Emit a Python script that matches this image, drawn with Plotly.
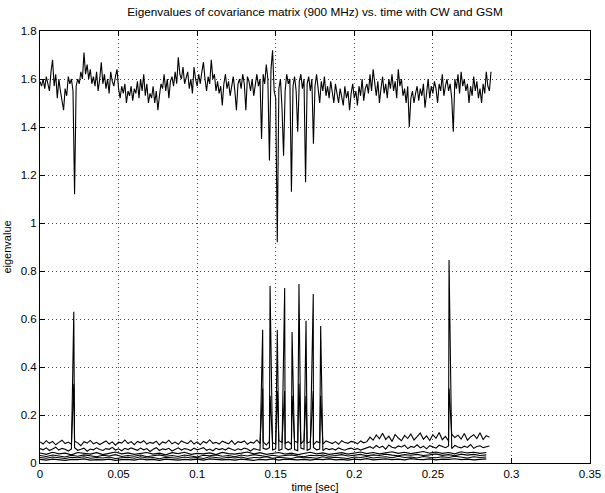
import numpy as np
import plotly.graph_objects as go

title_text = "Eigenvalues of covariance matrix (900 MHz) vs. time with CW and GSM"
x_label = "time [sec]"
y_label = "eigenvalue"
x_ticks = [0, 0.05, 0.1, 0.15, 0.2, 0.25, 0.3, 0.35]
x_tick_text = ["0", "0.05", "0.1", "0.15", "0.2", "0.25", "0.3", "0.35"]
y_ticks = [0, 0.2, 0.4, 0.6, 0.8, 1.0, 1.2, 1.4, 1.6, 1.8]
y_tick_text = ["0", "0.2", "0.4", "0.6", "0.8", "1", "1.2", "1.4", "1.6", "1.8"]

# sampling periods (s)
dt_fine = 0.001
dt_mid = 0.002
dt_coarse = 0.004

# largest eigenvalue, 1 ms samples
ev1 = [
    1.59, 1.57, 1.60, 1.56, 1.61, 1.58, 1.55, 1.63, 1.68, 1.57,
    1.62, 1.52, 1.60, 1.55, 1.50, 1.47, 1.56, 1.53, 1.61, 1.58,
    1.60, 1.55, 1.12, 1.57, 1.60, 1.58, 1.63, 1.60, 1.71, 1.62,
    1.66, 1.60, 1.64, 1.58, 1.61, 1.57, 1.63, 1.55, 1.60, 1.67,
    1.58, 1.62, 1.56, 1.60, 1.54, 1.63, 1.59, 1.57, 1.61, 1.64,
    1.56, 1.52, 1.57, 1.54, 1.58, 1.50, 1.55, 1.53, 1.57, 1.51,
    1.56, 1.54, 1.59, 1.52, 1.60, 1.55, 1.62, 1.53, 1.58, 1.50,
    1.54, 1.52, 1.57, 1.50, 1.55, 1.47, 1.53, 1.58, 1.56, 1.62,
    1.55, 1.60, 1.52, 1.59, 1.61, 1.57, 1.63, 1.58, 1.69, 1.62,
    1.60, 1.65, 1.58, 1.61, 1.63, 1.56, 1.60, 1.54, 1.65, 1.60,
    1.57, 1.62, 1.58, 1.63, 1.67, 1.60, 1.55, 1.61, 1.58, 1.68,
    1.60, 1.62, 1.55, 1.59, 1.54, 1.57, 1.49, 1.58, 1.62, 1.56,
    1.59, 1.53, 1.57, 1.61, 1.55, 1.47, 1.58, 1.60, 1.56, 1.62,
    1.58, 1.47, 1.61, 1.59, 1.55, 1.60, 1.53, 1.58, 1.62, 1.57,
    1.60, 1.35, 1.62, 1.58, 1.66, 1.60, 1.26, 1.64, 1.72, 1.55,
    1.52, 0.92, 1.56, 1.60, 1.48, 1.28, 1.55, 1.62, 1.58, 1.60,
    1.13, 1.57, 1.61, 1.55, 1.38, 1.59, 1.62, 1.56, 1.60, 1.17,
    1.58, 1.61, 1.55, 1.60, 1.33, 1.57, 1.62, 1.56, 1.50, 1.59,
    1.55, 1.61, 1.53, 1.57, 1.52, 1.59, 1.55, 1.50, 1.58, 1.54,
    1.50, 1.56, 1.53, 1.49, 1.57, 1.52, 1.55, 1.47, 1.54, 1.58,
    1.52, 1.55, 1.49, 1.57, 1.53, 1.60, 1.51, 1.56, 1.58, 1.54,
    1.62, 1.55, 1.64, 1.57, 1.53, 1.59, 1.50, 1.56, 1.61, 1.54,
    1.58, 1.52, 1.60, 1.56, 1.62, 1.55, 1.59, 1.52, 1.64, 1.57,
    1.60, 1.53, 1.56, 1.50, 1.57, 1.40, 1.52, 1.55, 1.50, 1.54,
    1.57, 1.51, 1.56, 1.53, 1.58, 1.48, 1.55, 1.60, 1.52, 1.57,
    1.54, 1.59, 1.56, 1.50, 1.58, 1.55, 1.62, 1.53, 1.57, 1.60,
    1.55, 1.58, 1.52, 1.38, 1.60, 1.56, 1.62, 1.54, 1.63, 1.57,
    1.60, 1.55, 1.58, 1.50, 1.57, 1.53, 1.61, 1.55, 1.59, 1.52,
    1.56, 1.50, 1.58, 1.54, 1.63, 1.57, 1.55, 1.63,
]

# second and third eigenvalues, 2 ms samples
ev2 = [
    .088, .079, .093, .082, .090, .076, .086, .095, .081, .087,
    .078, .091, .084, .072, .089, .083, .094, .080, .086, .077,
    .085, .092, .079, .088, .074, .087, .083, .096, .081, .089,
    .076, .090, .084, .093, .079, .086, .082, .091, .075, .088,
    .083, .095, .080, .087, .078, .092, .085, .081, .094, .079,
    .088, .076, .090, .083, .097, .082, .086, .079, .091, .084,
    .080, .093, .077, .089, .085, .092, .078, .087, .083, .096,
    .081, .088, .075, .090, .084, .079, .093, .086, .082, .089,
    .077, .091, .085, .080, .094, .083, .088, .076, .090, .084,
    .079, .092, .086, .081, .089, .078, .093, .085, .082, .090,
    .087, .080, .092, .084, .089,
    .108, .095, .117, .101, .124, .098, .112, .090, .119, .104,
    .093, .115, .102, .121, .096, .110, .125, .099, .113, .094,
    .118, .103, .127, .097, .111, .092, .120, .106, .116, .100,
    .123, .095, .109, .118, .102, .126, .098, .114, .107,
]
ev3 = [
    .060, .055, .063, .052, .058, .066, .054, .061, .057, .050,
    .059, .064, .053, .057, .062, .049, .058, .055, .063, .056,
    .052, .060, .057, .065, .054, .059, .051, .061, .056, .063,
    .058, .053, .062, .055, .060, .048, .057, .064, .052, .059,
    .056, .061, .050, .058, .063, .054, .060, .057, .052, .062,
    .055, .059, .064, .053, .058, .051, .061, .056, .060, .054,
    .063, .057, .052, .059, .055, .062, .058, .050, .060, .056,
    .053, .061, .057, .064, .054, .059, .052, .058, .063, .055,
    .060, .056, .051, .062, .057, .053, .059, .065, .055, .058,
    .052, .061, .056, .060, .054, .063, .057, .053, .059, .062,
    .056, .060, .054, .058, .063,
    .068, .061, .073, .064, .070, .058, .075, .066, .062, .071,
    .067, .074, .060, .069, .065, .076, .063, .070, .059, .072,
    .066, .062, .074, .068, .064, .071, .060, .073, .067, .063,
    .070, .065, .077, .061, .069, .072, .064, .068, .071,
]

# smallest eigenvalues, 4 ms samples
ev4 = [
    .042, .036, .045, .038, .041, .034, .044, .039, .037, .043,
    .035, .040, .046, .038, .042, .036, .039, .044, .037, .041,
    .034, .043, .039, .045, .036, .040, .038, .042, .035, .044,
    .039, .037, .041, .046, .038, .043, .036, .040, .044, .037,
    .041, .035, .039, .045, .038, .042, .036, .040, .043, .037,
    .041, .046, .039, .044, .038, .042, .047, .040, .045, .039,
    .043, .048, .041, .046, .040, .044, .038, .047, .042, .045,
    .040, .044,
]
ev5 = [
    .031, .027, .033, .029, .025, .032, .028, .034, .030, .026,
    .032, .029, .035, .027, .031, .028, .033, .026, .030, .034,
    .028, .031, .027, .033, .029, .025, .032, .030, .034, .028,
    .031, .026, .033, .029, .035, .030, .027, .032, .028, .031,
    .034, .029, .026, .032, .030, .033, .028, .031, .035, .029,
    .032, .036, .030, .034, .031, .037, .033, .030, .035, .032,
    .036, .031, .034, .038, .032, .035, .030, .037, .033, .036,
    .031, .034,
]
ev6 = [
    .023, .020, .025, .021, .019, .024, .022, .026, .020, .023,
    .021, .025, .019, .022, .024, .020, .026, .021, .023, .018,
    .024, .022, .020, .025, .021, .023, .019, .026, .022, .020,
    .024, .021, .025, .019, .023, .022, .026, .020, .024, .021,
    .019, .025, .022, .023, .020, .026, .021, .024, .022, .019,
    .025, .023, .027, .021, .024, .026, .022, .028, .023, .025,
    .021, .027, .024, .022, .026, .023, .028, .024, .021, .026,
    .023, .025,
]
ev7 = [
    .015, .012, .016, .013, .011, .015, .014, .017, .012, .014,
    .013, .016, .011, .014, .015, .012, .017, .013, .015, .011,
    .016, .014, .012, .015, .013, .016, .012, .017, .014, .013,
    .015, .012, .016, .014, .011, .015, .013, .017, .012, .016,
    .014, .013, .015, .012, .016, .014, .017, .013, .015, .012,
    .016, .014, .018, .013, .015, .017, .014, .016, .013, .018,
    .015, .014, .017, .013, .016, .015, .018, .014, .016, .013,
    .015, .017,
]

# burst events (CW onset, GSM frames, late burst)
spike_t = [0.0215, 0.1417, 0.1464, 0.1510, 0.1557, 0.1604, 0.1648, 0.1693, 0.1739, 0.1786, 0.2603]
spike_peak = [0.63, 0.555, 0.738, 0.555, 0.729, 0.546, 0.746, 0.593, 0.704, 0.571, 0.846]
spike_peak2 = [0.33, 0.31, 0.28, 0.30, 0.30, 0.28, 0.33, 0.28, 0.30, 0.28, 0.31]


def times(n, dt):
    return list(np.arange(n) * dt)


def with_spikes(tt, vv, st, sp):
    pts = sorted(list(zip(tt, vv)) + list(zip(st, sp)))
    return [p[0] for p in pts], [p[1] for p in pts]


fig = go.Figure()
line_black = dict(color="black", width=1.1)

series = [
    (times(len(ev7), dt_coarse), ev7),
    (times(len(ev6), dt_coarse), ev6),
    (times(len(ev5), dt_coarse), ev5),
    (times(len(ev4), dt_coarse), ev4),
    with_spikes(times(len(ev2), dt_mid), ev2, spike_t, spike_peak2),
    with_spikes(times(len(ev3), dt_mid), ev3, spike_t, spike_peak),
    (times(len(ev1), dt_fine), ev1),
]
for tx, vy in series:
    fig.add_trace(go.Scatter(x=tx, y=vy, mode="lines", line=line_black,
                             showlegend=False, hoverinfo="skip"))

font_family = "Liberation Sans, Arial, Helvetica, sans-serif"
axis_common = dict(
    showline=True, linecolor="black", linewidth=1, mirror="ticks",
    ticks="inside", ticklen=5, tickcolor="black", tickwidth=1,
    showgrid=True, gridcolor="#444", gridwidth=1, griddash="1px,3px",
    zeroline=False, automargin=False,
    tickfont=dict(size=11.5, color="black", family=font_family),
)
fig.update_xaxes(range=[0, 0.35], tickvals=x_ticks, ticktext=x_tick_text,
                 title=dict(text=x_label, font=dict(size=11, color="black", family=font_family), standoff=4),
                 **axis_common)
fig.update_yaxes(range=[0, 1.8], tickvals=y_ticks, ticktext=y_tick_text,
                 title=dict(text=y_label, font=dict(size=11, color="black", family=font_family), standoff=6),
                 **axis_common)
fig.update_layout(
    width=605, height=493,
    margin=dict(l=40, r=15, t=31, b=30),
    paper_bgcolor="white", plot_bgcolor="white",
    title=dict(text=title_text, x=0.5, xref="paper", y=0.975, yanchor="middle",
               font=dict(size=11.8, color="black", family=font_family)),
)
fig.write_html("out.html")
